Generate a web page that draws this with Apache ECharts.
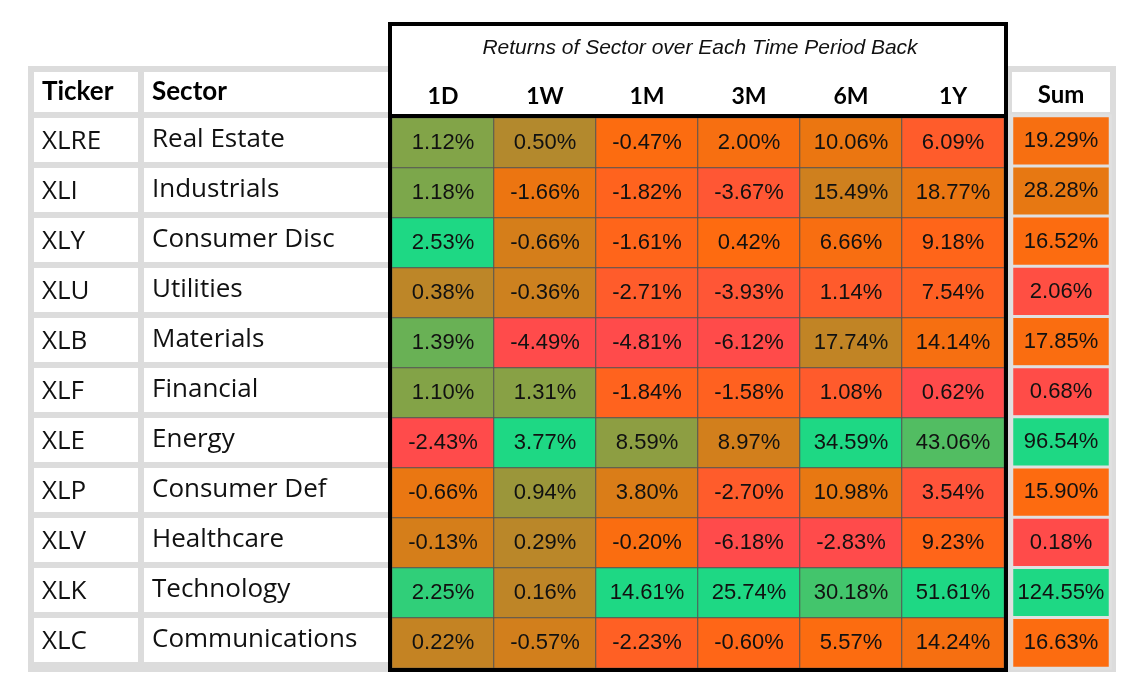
<!DOCTYPE html><html><head><meta charset="utf-8">
<script src="https://cdn.jsdelivr.net/npm/echarts@6/dist/echarts.min.js"></script>
<style>html,body{margin:0;background:#fff}#c{width:1140px;height:690px}</style></head><body><div id="c"></div>
<script>
const tickers=['XLRE','XLI','XLY','XLU','XLB','XLF','XLE','XLP','XLV','XLK','XLC'];
const sectors=['Real Estate','Industrials','Consumer Disc','Utilities','Materials','Financial','Energy','Consumer Def','Healthcare','Technology','Communications'];
const periods=['1D','1W','1M','3M','6M','1Y'];
const r1D=[1.12,1.18,2.53,0.38,1.39,1.10,-2.43,-0.66,-0.13,2.25,0.22];
const r1W=[0.50,-1.66,-0.66,-0.36,-4.49,1.31,3.77,0.94,0.29,0.16,-0.57];
const r1M=[-0.47,-1.82,-1.61,-2.71,-4.81,-1.84,8.59,3.80,-0.20,14.61,-2.23];
const r3M=[2.00,-3.67,0.42,-3.93,-6.12,-1.58,8.97,-2.70,-6.18,25.74,-0.60];
const r6M=[10.06,15.49,6.66,1.14,17.74,1.08,34.59,10.98,-2.83,30.18,5.57];
const r1Y=[6.09,18.77,9.18,7.54,14.14,0.62,43.06,3.54,9.23,51.61,14.24];
const sums=[19.29,28.28,16.52,2.06,17.85,0.68,96.54,15.90,0.18,124.55,16.63];
const cols=[r1D,r1W,r1M,r3M,r6M,r1Y];
const ramp=['#ff4b4b','#ff6a10','#e47a12','#b5882c','#5cb85c','#1ed884'];
const nRows=tickers.length, topY=118, rowH=50;
const chart=echarts.init(document.getElementById('c'));
const series=[],visualMap=[];
cols.forEach((col,ci)=>{
  series.push({type:'heatmap',xAxisIndex:0,yAxisIndex:0,data:col.map((v,ri)=>[ci,ri,v]),
    label:{show:true,formatter:p=>p.value[2].toFixed(2)+'%',fontFamily:'Liberation Sans',fontSize:22,color:'#111'},
    itemStyle:{borderColor:'#555',borderWidth:1},emphasis:{disabled:true}});
  visualMap.push({show:false,seriesIndex:ci,dimension:2,min:Math.min(...col),max:Math.max(...col),inRange:{color:ramp}});
});
series.push({type:'heatmap',xAxisIndex:1,yAxisIndex:1,data:sums.map((v,ri)=>[0,ri,v]),
  label:{show:true,formatter:p=>p.value[2].toFixed(2)+'%',fontFamily:'Liberation Sans',fontSize:22,color:'#111'},
  itemStyle:{borderColor:'#e0e0e0',borderWidth:3},emphasis:{disabled:true}});
visualMap.push({show:false,seriesIndex:6,dimension:2,min:0,max:60,inRange:{color:['#ff4b4b','#ff6a10','#e47a12','#5cb85c','#1ed884']}});
const cat=(d)=>({type:'category',data:d,show:false});
const g=[];
g.push({type:'rect',shape:{x:28,y:66,width:360,height:606},style:{fill:'#dcdcdc'}});
g.push({type:'rect',shape:{x:34,y:72,width:104,height:40},style:{fill:'#fff'}});
g.push({type:'rect',shape:{x:144,y:72,width:244,height:40},style:{fill:'#fff'}});
g.push({type:'text',x:42,y:92,style:{text:'Ticker',font:'bold 26px Lato',fill:'#000',verticalAlign:'middle'}});
g.push({type:'text',x:152,y:92,style:{text:'Sector',font:'bold 26px Lato',fill:'#000',verticalAlign:'middle'}});
tickers.forEach((t,i)=>{
  const y=topY+i*rowH;
  g.push({type:'rect',shape:{x:34,y:y,width:104,height:rowH-6},style:{fill:'#fff'}});
  g.push({type:'rect',shape:{x:144,y:y,width:244,height:rowH-6},style:{fill:'#fff'}});
  g.push({type:'text',x:42,y:y+24,style:{text:t,font:'26px "Open Sans"',fill:'#111',verticalAlign:'middle'}});
  g.push({type:'text',x:152,y:y+22,style:{text:sectors[i],font:'26px "Open Sans"',fill:'#111',verticalAlign:'middle'}});
});
g.push({type:'rect',shape:{x:1006,y:66,width:110,height:606},style:{fill:'#dcdcdc'},z:-10});
g.push({type:'rect',shape:{x:1012,y:72,width:98,height:40},style:{fill:'#fff'},z:-9});
g.push({type:'text',x:1061,y:95,style:{text:'Sum',font:'bold 24px Lato',fill:'#000',align:'center',verticalAlign:'middle'}});
g.push({type:'rect',shape:{x:390,y:24,width:616,height:92},style:{fill:'#fff'}});
g.push({type:'text',x:700,y:48,style:{text:'Returns of Sector over Each Time Period Back',font:'italic 21px "Liberation Sans"',fill:'#111',align:'center',verticalAlign:'middle'}});
periods.forEach((p,i)=>g.push({type:'text',x:392+102*i+51,y:97,style:{text:p,font:'bold 23px Lato',fill:'#000',align:'center',verticalAlign:'middle'}}));
g.push({type:'line',shape:{x1:390,y1:116,x2:1006,y2:116},style:{stroke:'#000',lineWidth:4},z:100});
g.push({type:'rect',shape:{x:390,y:24,width:616,height:646},style:{fill:'none',stroke:'#000',lineWidth:4},z:100});
chart.setOption({animation:false,
  grid:[{left:392,top:topY,width:612,height:nRows*rowH},{left:1012,top:topY-2,width:98,height:nRows*rowH+2}],
  xAxis:[{...cat(periods),gridIndex:0},{...cat(['Sum']),gridIndex:1}],
  yAxis:[{...cat(tickers),inverse:true,gridIndex:0},{...cat(tickers),inverse:true,gridIndex:1}],
  visualMap,series,graphic:g});
</script></body></html>
